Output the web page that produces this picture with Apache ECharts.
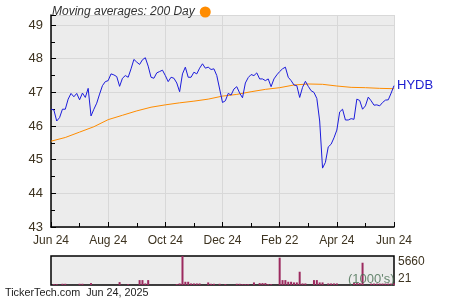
<!DOCTYPE html>
<html><head><meta charset="utf-8">
<script src="https://cdn.jsdelivr.net/npm/echarts@6/dist/echarts.min.js"></script>
<style>html,body{margin:0;padding:0;background:#fff}#c{width:450px;height:300px}</style>
</head><body><div id="c"></div>
<script>
const xLabels = ['Jun 24','Aug 24','Oct 24','Dec 24','Feb 22','Apr 24','Jun 24'];
const price = [
46.50,46.48,46.15,46.25,46.50,46.50,46.80,46.97,46.87,46.97,
46.78,46.98,46.85,47.12,46.30,46.50,46.68,46.95,47.20,47.32,
47.35,47.55,47.52,47.47,47.18,47.42,47.50,47.45,47.70,47.98,
47.90,47.83,47.97,48.03,47.78,47.45,47.42,47.58,47.62,47.66,
47.50,47.32,47.45,47.42,47.28,47.02,47.55,47.75,47.45,47.45,
47.60,47.55,47.72,47.85,47.72,47.75,47.68,47.70,47.50,47.10,
46.70,46.75,46.97,46.92,47.10,47.17,46.98,46.84,47.28,47.44,
47.53,47.50,47.58,47.40,47.40,47.35,47.40,47.17,47.40,47.52,
47.62,47.70,47.75,47.45,47.35,47.22,47.20,46.85,47.15,47.33,
47.18,47.05,47.00,46.82,46.15,44.75,44.92,45.38,45.46,45.65,
45.88,46.42,46.50,46.18,46.18,46.22,46.20,46.80,46.76,46.50,
46.60,46.86,46.75,46.62,46.63,46.60,46.70,46.77,46.78,46.98,
47.20];
const ma200 = [45.55,45.66,45.82,45.98,46.19,46.32,46.45,46.56,46.63,46.69,
46.74,46.80,46.89,46.94,47.02,47.09,47.14,47.22,47.25,47.24,47.19,47.15,47.14,47.12,47.11];
const maStep = 5;
const volume = [
30,200,200,30,260,260,30,30,30,30,
260,260,30,30,390,30,30,30,30,30,
30,30,30,30,585,30,30,200,30,30,
30,975,975,325,975,30,30,30,30,30,
30,30,30,30,200,325,5660,650,650,325,
325,325,325,30,30,520,260,260,30,260,
30,200,30,30,30,260,260,200,200,200,
30,520,30,390,390,390,200,200,30,30,
5330,975,975,650,650,520,520,2600,325,325,
30,30,975,975,520,520,30,325,325,325,
325,30,30,30,30,30,390,390,390,4350,
30,30,300,300,300,300,300,300,300,300,
300];
const volMin = 21, volMax = 5660;

const FONT = "'Liberation Sans', Arial, sans-serif";
const LBL = '#3d3320';
const chart = echarts.init(document.getElementById('c'), null, {renderer:'canvas'});
chart.setOption({
  animation:false,
  textStyle:{fontFamily:FONT},
  legend:{
    data:['200 Day'], left:47, top:1, align:'right', icon:'circle',
    itemWidth:11, itemHeight:11, itemGap:4,
    formatter:'Moving averages: {name}',
    textStyle:{fontStyle:'italic', color:'#333', fontSize:12, fontFamily:FONT}
  },
  grid:[
    {left:51, top:15, width:343, height:212, show:true, backgroundColor:'#ececec', borderWidth:0},
    {left:51, top:256, width:343, height:29, show:true, backgroundColor:'#ececec', borderColor:'#000', borderWidth:1.5}
  ],
  xAxis:[
    {type:'value', gridIndex:0, min:0, max:120, interval:20,
     axisLine:{show:true, lineStyle:{color:'#000', width:1.5}},
     axisTick:{show:true, inside:true, length:5, lineStyle:{color:'#000'}},
     minorTick:{show:true, splitNumber:2, length:4, lineStyle:{color:'#000'}},
     axisLabel:{color:LBL, fontSize:12, margin:8, fontFamily:FONT, formatter:v=>xLabels[Math.round(v/20)]||''},
     splitLine:{show:true, lineStyle:{color:'#d8d8d8', width:1}}},
    {type:'value', gridIndex:1, min:0, max:120, show:false}
  ],
  yAxis:[
    {type:'value', gridIndex:0, min:43, max:49.3, interval:1,
     axisLine:{show:true, lineStyle:{color:'#000', width:1.5}},
     axisTick:{show:true, inside:true, length:5, lineStyle:{color:'#000'}},
     minorTick:{show:true, splitNumber:2, length:4, lineStyle:{color:'#000'}},
     axisLabel:{color:LBL, fontSize:13, margin:8, fontFamily:FONT, formatter:v=>Number.isInteger(v)?String(v):''},
     splitLine:{show:true, lineStyle:{color:'#d8d8d8', width:1}}},
    {type:'value', gridIndex:1, position:'right', min:volMin, max:volMax, interval:volMax-volMin,
     axisLine:{show:false}, axisTick:{show:false}, splitLine:{show:false},
     axisLabel:{color:LBL, fontSize:12, margin:4, fontFamily:FONT, formatter:v=>String(v),
       verticalAlignMaxLabel:'top', verticalAlignMinLabel:'bottom'}}
  ],
  series:[
    {name:'HYDB', type:'line', xAxisIndex:0, yAxisIndex:0, symbol:'none',
     data:price.map((p,i)=>[i,p]), lineStyle:{color:'#1c1cdc', width:1}, itemStyle:{color:'#1c1cdc'},
     endLabel:{show:true, formatter:'HYDB', color:'#1c1cd0', fontSize:13, distance:3, fontFamily:FONT},
     z:3},
    {name:'200 Day', type:'line', xAxisIndex:0, yAxisIndex:0, symbol:'none',
     data:ma200.map((p,k)=>[k*maStep,p]), lineStyle:{color:'#ff8c00', width:1}, itemStyle:{color:'#ff8c00'}, z:2},
    {name:'Volume', type:'bar', xAxisIndex:1, yAxisIndex:1, barWidth:2,
     data:volume.map((v,i)=>[i,v]), itemStyle:{color:'#9c2a5f'}}
  ],
  graphic:[
    {type:'text', left:348, top:273, z:10, style:{text:"(1000's)", fill:'rgba(70,110,80,0.8)', font:"13px "+FONT}},
    {type:'text', left:5, top:288, style:{text:'TickerTech.com  Jun 24, 2025', fill:'#222', font:"10.8px "+FONT}}
  ]
});
</script></body></html>
